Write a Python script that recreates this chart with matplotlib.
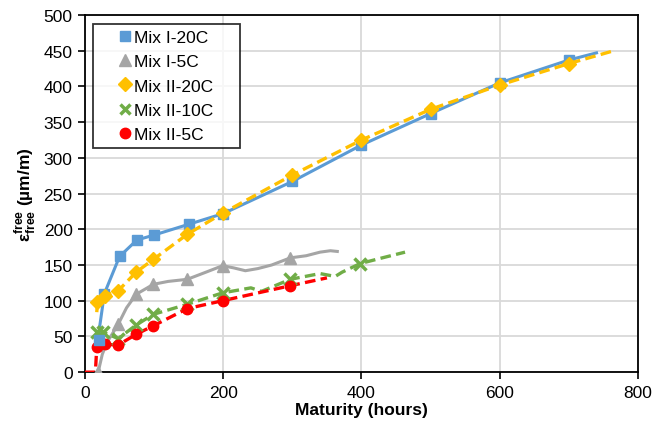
import matplotlib
matplotlib.use("Agg")
import matplotlib.pyplot as plt
from matplotlib.lines import Line2D

plt.rcParams["font.family"] = ["Liberation Sans", "DejaVu Sans"]
plt.rcParams["mathtext.fontset"] = "custom"
plt.rcParams["mathtext.rm"] = "Liberation Sans"
plt.rcParams["mathtext.bf"] = "Liberation Sans:bold"

# Mix I-20C (blue, solid)
i20_x = [18, 28, 50, 75, 100, 150, 200, 300, 400, 500, 600, 700, 740]
i20_y = [42, 110, 162, 185, 192, 207, 222, 267, 318, 362, 405, 437, 447]
i20_mx = [20, 28, 50, 75, 100, 150, 200, 300, 400, 500, 600, 700]
i20_my = [45, 110, 162, 185, 192, 207, 222, 267, 318, 362, 405, 437]

# Mix I-5C (gray, solid, noisy)
i5_x = [19, 25, 32, 48, 60, 74, 99, 120, 148, 175, 199, 215, 232, 250, 270, 297, 320, 340, 355, 365]
i5_y = [0, 25, 42, 67, 90, 109, 123, 127, 130, 140, 149, 146, 142, 145, 150, 160, 163, 168, 170, 169]
i5_mx = [19, 48, 74, 99, 148, 199, 297]
i5_my = [0, 67, 109, 123, 130, 149, 160]

# Mix II-20C (yellow, dashed)
ii20_x = [17, 18, 29, 48, 74, 99, 148, 200, 300, 400, 500, 600, 700, 765]
ii20_y = [84, 98, 107, 114, 140, 158, 193, 223, 276, 325, 368, 402, 432, 450]
ii20_mx = [18, 29, 48, 74, 99, 148, 200, 300, 400, 500, 600, 700]
ii20_my = [98, 107, 114, 140, 158, 193, 223, 276, 325, 368, 402, 432]

# Mix II-10C (green, dashed)
ii10_x = [17, 26, 48, 74, 99, 148, 199, 240, 255, 265, 297, 340, 362, 372, 398, 430, 463]
ii10_y = [56, 56, 47, 66, 81, 95, 111, 118, 113, 117, 130, 138, 134, 140, 152, 160, 168]
ii10_mx = [17, 26, 48, 74, 99, 148, 199, 297, 398]
ii10_my = [56, 56, 47, 66, 81, 95, 111, 130, 152]

# Mix II-5C (red, dashed)
ii5_x = [0, 15, 17, 29, 48, 74, 99, 148, 199, 297, 350]
ii5_y = [0, 0, 35, 39, 38, 53, 65, 89, 100, 121, 132]
ii5_mx = [17, 29, 48, 74, 99, 148, 199, 297]
ii5_my = [35, 39, 38, 53, 65, 89, 100, 121]

C_BLUE = "#5B9BD5"
C_GRAY = "#A5A5A5"
C_YEL = "#FFC000"
C_GRN = "#70AD47"
C_RED = "#FF0000"

fig = plt.figure(figsize=(6.54, 4.39), dpi=100)
ax = fig.add_axes([0.130, 0.150, 0.8455, 0.8135])

dash = (0, (3.2, 1.6))
ax.plot(i5_x, i5_y, color=C_GRAY, lw=2.2, zorder=3)
ax.plot(i5_mx, i5_my, ls="none", marker="^", ms=8, color=C_GRAY, zorder=4)
ax.plot(ii10_x, ii10_y, color=C_GRN, lw=2.4, ls=dash, zorder=3)
ax.plot(ii10_mx, ii10_my, ls="none", marker="x", ms=8, mew=2.5, color=C_GRN, zorder=4)
ax.plot(ii5_x, ii5_y, color=C_RED, lw=2.4, ls=dash, zorder=3)
ax.plot(ii5_mx, ii5_my, ls="none", marker="o", ms=7.5, color=C_RED, zorder=4)
ax.plot(i20_x, i20_y, color=C_BLUE, lw=2.2, zorder=3)
ax.plot(i20_mx, i20_my, ls="none", marker="s", ms=7, color=C_BLUE, zorder=4)
ax.plot(ii20_x, ii20_y, color=C_YEL, lw=2.4, ls=dash, zorder=5)
ax.plot(ii20_mx, ii20_my, ls="none", marker="D", ms=7.5, color=C_YEL, zorder=6)

ax.set_xlim(0, 800)
ax.set_ylim(0, 500)
ax.set_xticks(range(0, 801, 200))
ax.set_yticks(range(0, 501, 50))
ax.grid(True, color="#D9D9D9", lw=1.3)
ax.set_axisbelow(True)
for s in ax.spines.values():
    s.set_color("black")
    s.set_linewidth(1.3)
ax.tick_params(labelsize=12.5, length=5, width=1.2, direction="out", pad=4)

ax.set_xlabel("Maturity (hours)", fontsize=12.5, fontweight="bold", labelpad=2)
ax.set_ylabel(r"ε$_{\mathbf{free}}^{\mathbf{free}}$ (µm/m)", fontsize=12.5,
              fontweight="bold", labelpad=4)

handles = [
    Line2D([], [], ls="none", marker="s", ms=7.5, color=C_BLUE, label="Mix I-20C"),
    Line2D([], [], ls="none", marker="^", ms=8, color=C_GRAY, label="Mix I-5C"),
    Line2D([], [], ls="none", marker="D", ms=7, color=C_YEL, label="Mix II-20C"),
    Line2D([], [], ls="none", marker="x", ms=7, mew=2.5, color=C_GRN, label="Mix II-10C"),
    Line2D([], [], ls="none", marker="o", ms=7.5, color=C_RED, label="Mix II-5C"),
]
leg = ax.legend(handles=handles, loc="upper left",
                bbox_to_anchor=(0.0145, 0.5, 0.266, 0.475), mode="expand",
                fontsize=12.5, frameon=True, fancybox=False, edgecolor="black",
                handlelength=3.0, handletextpad=-1.0, borderpad=0.35,
                labelspacing=0.52, borderaxespad=0.0)
leg.get_frame().set_linewidth(1.3)

fig.savefig("out.png", dpi=100)
